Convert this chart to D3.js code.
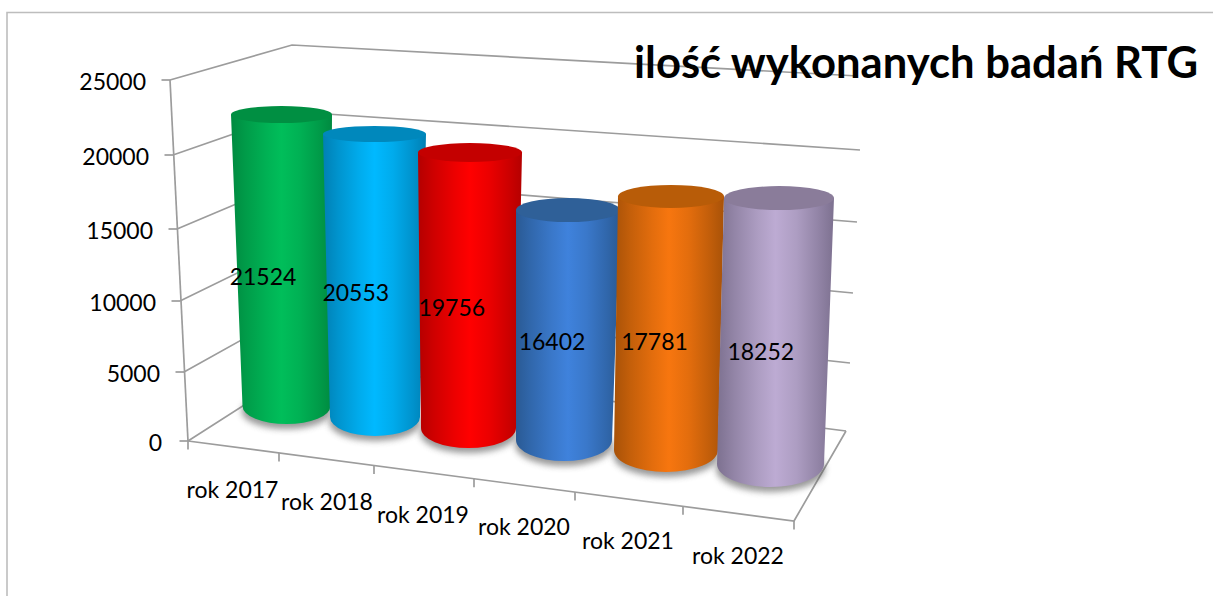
<!DOCTYPE html>
<html><head><meta charset="utf-8">
<script src="https://cdn.jsdelivr.net/npm/d3@7/dist/d3.min.js"></script>
<style>html,body{margin:0;padding:0;background:#fff;overflow:hidden}svg{display:block}</style>
</head><body><div id="chart"></div>
<script>
// ---- data ----
const categories = ["rok 2017","rok 2018","rok 2019","rok 2020","rok 2021","rok 2022"];
const values = [21524,20553,19756,16402,17781,18252];
const valueTicks = [0,5000,10000,15000,20000,25000];
const titleText = "ilość wykonanych badań RTG";
const mainColors = ["#00BE5A","#00B9FF","#FF0000","#3F82DC","#F7760F","#BDABD3"];
const edgeColors = ["#008A40","#0080B4","#B40000","#2A5A94","#A85208","#7D7190"];
const topColors  = ["#008F42","#0088BC","#C40000","#2F6098","#B85C08","#8A7C9A"];

// ---- layout scales (3D projection of the chart box) ----
const W = 1213, H = 596;
const idx = d3.range(categories.length);
const frontX = d3.scaleLinear(valueTicks,[188,184,180,177,173,170]);
const frontY = d3.scaleLinear(valueTicks,[441,372,301,229,155,80]);
const backLX = d3.scaleLinear(valueTicks,[310,306,303,300,297,292]);
const backLY = d3.scaleLinear(valueTicks,[363,304,241,177,112,45]);
const backRX = d3.scaleLinear(valueTicks,[846,850,853,857,860,858]);
const backRY = d3.scaleLinear(valueTicks,[431,363,293,222,150,76]);
const floorCorner = {x:794,y:521};
const tickX = d3.scaleLinear([0,1,2,3,4,5,6],[188,279,374,474,575,683,794]);
const frontLineY = d3.scaleLinear([188,794],[441,521]);

const baseCx = d3.scaleLinear(idx,[286.5,375,468.5,564,666,770.5]);
const baseCy = d3.scaleLinear(idx,[406,417,428,440,450,464]);
const baseRx = d3.scaleLinear(idx,[44,45,47.5,48,52,53.5]);
const baseRy = d3.scaleLinear(idx,[18,19,20,21,22,23]);
const pxPerUnit = d3.scaleLinear(idx,[.01354,.01377,.01395,.01402,.01426,.01457]);
const topDx = d3.scaleLinear(idx,[-5,-.5,1.5,4,5,8.5]);
const topRx = d3.scaleLinear(idx,[50.5,51.5,52,52,53,55]);
const topRy = d3.scaleLinear(idx,[8.5,8,9.5,12,11.5,12]);
const labelDx = d3.scaleLinear(idx,[-21,-19,-17.5,-14,-14,-14]);
const labelDy = d3.scaleLinear(idx,[19,20,20,19,21,23]);
const catLabelX = d3.scaleLinear(idx,[232.5,327,423,524,628,738]);
const catLabelY = d3.scaleLinear(idx,[498,510,523,535,549,564]);

const FONT = "Lato, 'Open Sans', sans-serif";
const LINE = "#9C9C9C";
const svg = d3.select("#chart").append("svg").attr("width",W).attr("height",H);
const defs = svg.append("defs");
defs.append("filter").attr("id","soft").attr("x","-30%").attr("y","-60%").attr("width","160%").attr("height","220%")
  .append("feGaussianBlur").attr("stdDeviation",3);

// frame
svg.append("path").attr("d",`M7,${H}V12.5H${W}`).attr("fill","none").attr("stroke","#BDBDBD").attr("stroke-width",1.6);

// walls & floor
const grid = svg.append("g").attr("fill","none").attr("stroke",LINE).attr("stroke-width",1.7);
valueTicks.forEach(v=>{
  grid.append("polyline").attr("points",[
    [frontX(v),frontY(v)],[backLX(v),backLY(v)],[backRX(v),backRY(v)]
  ].join(" "));
  grid.append("line").attr("x1",frontX(v)-8.5).attr("x2",frontX(v)).attr("y1",frontY(v)).attr("y2",frontY(v));
});
grid.append("line").attr("x1",frontX(0)).attr("y1",frontY(0)).attr("x2",frontX(25000)).attr("y2",frontY(25000));
grid.append("polyline").attr("points",[
  [frontX(0),frontY(0)],[floorCorner.x,floorCorner.y],[backRX(0),backRY(0)]
].join(" "));
d3.range(7).forEach(i=>{
  const x=tickX(i), y=frontLineY(x);
  grid.append("line").attr("x1",x).attr("x2",x).attr("y1",y).attr("y2",y+8.5);
});

// value axis labels
svg.append("g").selectAll("text").data(valueTicks).join("text")
  .attr("x",v=>frontX(v)-24 + (v===0?-2:0)).attr("y",v=>frontY(v)+4)
  .attr("text-anchor","end").attr("dominant-baseline","middle")
  .attr("font-family",FONT).attr("font-size",23).attr("fill","#000").text(d=>d);

// shadows
svg.append("g").selectAll("ellipse").data(idx).join("ellipse")
  .attr("cx",i=>baseCx(i)).attr("cy",i=>baseCy(i)+5)
  .attr("rx",i=>baseRx(i)+1).attr("ry",i=>baseRy(i))
  .attr("fill","#555").attr("opacity",.6).attr("filter","url(#soft)");

// cylinders
idx.forEach(i=>{
  const g = defs.append("linearGradient").attr("id","g"+i).attr("x1",0).attr("x2",1).attr("y1",0).attr("y2",0);
  const mix = d3.interpolateRgb(edgeColors[i],mainColors[i]);
  [[0,0],[.15,.35],[.35,.75],[.5,1],[.68,.75],[.88,.3],[1,0]].forEach(([o,t])=>
    g.append("stop").attr("offset",o).attr("stop-color",mix(t)));
});
const bars = svg.append("g").selectAll("g").data(idx).join("g");
bars.append("path").attr("fill",i=>`url(#g${i})`).attr("d",i=>{
  const cy=baseCy(i), cx=baseCx(i), rx=baseRx(i), ry=baseRy(i);
  const ty=cy-values[i]*pxPerUnit(i), tx=cx+topDx(i), trx=topRx(i);
  return `M${tx-trx},${ty}L${cx-rx},${cy}A${rx},${ry} 0 0 0 ${cx+rx},${cy}L${tx+trx},${ty}Z`;
});
bars.append("ellipse").attr("fill",i=>topColors[i])
  .attr("cx",i=>baseCx(i)+topDx(i)).attr("cy",i=>baseCy(i)-values[i]*pxPerUnit(i))
  .attr("rx",i=>topRx(i)).attr("ry",i=>topRy(i));

// value labels
svg.append("g").selectAll("text").data(idx).join("text")
  .attr("x",i=>baseCx(i)+topDx(i)/2+labelDx(i))
  .attr("y",i=>baseCy(i)-values[i]*pxPerUnit(i)/2+labelDy(i))
  .attr("text-anchor","middle").attr("dominant-baseline","middle")
  .attr("font-family",FONT).attr("font-size",23).attr("fill","#000").text(i=>values[i]);

// category labels
svg.append("g").selectAll("text").data(idx).join("text")
  .attr("x",i=>catLabelX(i)).attr("y",i=>catLabelY(i))
  .attr("text-anchor","middle")
  .attr("font-family",FONT).attr("font-size",23).attr("fill","#000").text(i=>categories[i]);

// title
svg.append("text").attr("x",634).attr("y",78)
  .attr("font-family",FONT).attr("font-weight",700).attr("font-size",43.6).attr("fill","#000").text(titleText);
</script></body></html>
